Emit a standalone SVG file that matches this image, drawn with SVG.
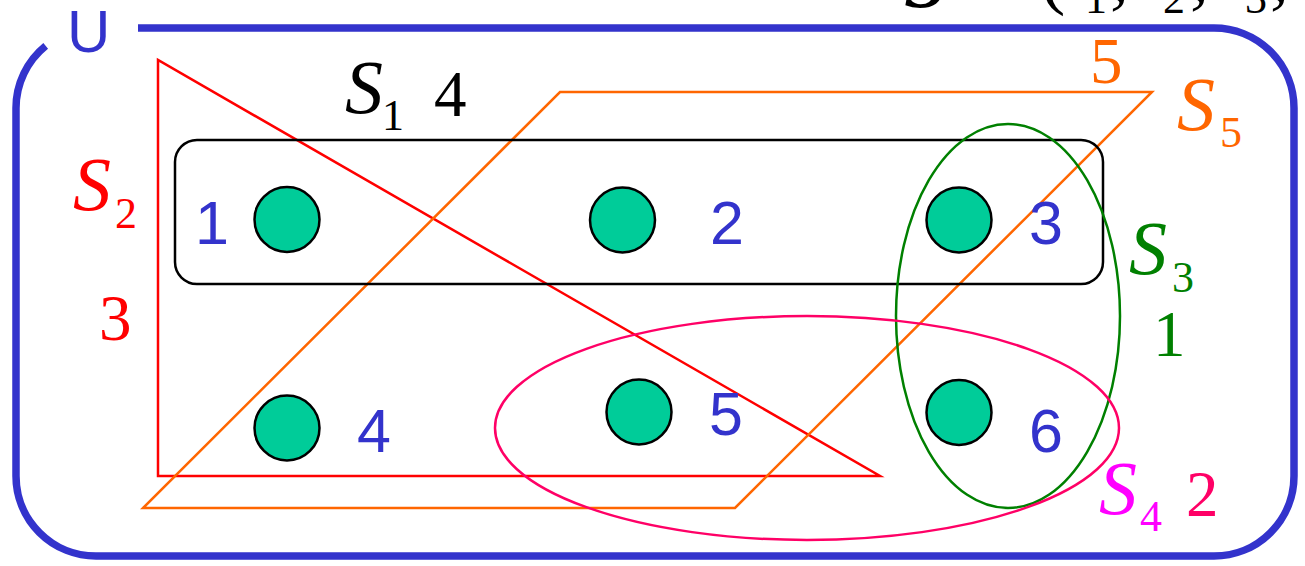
<svg xmlns="http://www.w3.org/2000/svg" width="1305" height="566" viewBox="0 0 1305 566">
<style>
.serif{font-family:"Liberation Serif","Times New Roman",serif}
.it{font-style:italic}
.sans{font-family:"Liberation Sans",Arial,sans-serif}
.num{font-family:"Liberation Sans",Arial,sans-serif;font-size:61px;fill:#3333cc}
.dot{fill:#00cc99;stroke:#000;stroke-width:2.5}
.set{fill:none;stroke-width:2.5}
</style>
<rect width="1305" height="566" fill="#fff"/>
<!-- cut-off title at top -->
<g id="title" class="serif" font-size="76" fill="#000">
<text x="904" y="7" font-weight="bold" font-style="italic">S</text>
<text x="1040" y="0">(</text>
<text x="1085" y="13" font-size="44">1</text>
<text x="1110" y="0">,</text>
<text x="1163" y="13" font-size="44">2</text>
<text x="1190" y="0">,</text>
<text x="1245" y="13" font-size="44">3</text>
<text x="1270" y="0">,</text>
</g>
<!-- universe -->
<g id="universe">
<path d="M138 28 H1214 A80 80 0 0 1 1294 108 V476 A80 80 0 0 1 1214 556 H96 A80 80 0 0 1 16 476 V108 A80 80 0 0 1 45.7 45.8" fill="none" stroke="#3333cc" stroke-width="7.5"/>
<text x="67" y="52" class="sans" font-size="60" fill="#3333cc">U</text>
</g>
<!-- sets -->
<g id="sets">
<g id="S2">
<polygon class="set" stroke="#ff0000" points="158,60 158,476 880,476"/>
<text x="73" y="210" class="serif it" font-size="76" fill="#ff0000">S</text>
<text x="115" y="228" class="serif" font-size="44" fill="#ff0000">2</text>
<text x="99" y="340" class="serif" font-size="65" fill="#ff0000">3</text>
</g>
<g id="S5">
<polygon class="set" stroke="#ff6600" points="560,92 1152,92 735,508 143,508"/>
<text x="1177" y="130" class="serif it" font-size="76" fill="#ff6600">S</text>
<text x="1220" y="147" class="serif" font-size="44" fill="#ff6600">5</text>
<text x="1090" y="83" class="serif" font-size="65" fill="#ff6600">5</text>
</g>
<g id="S1">
<rect class="set" stroke="#000" x="175" y="140" width="928" height="144" rx="22"/>
<text x="345" y="113" class="serif it" font-size="76" fill="#000">S</text>
<text x="382" y="130" class="serif" font-size="44" fill="#000">1</text>
<text x="434" y="116" class="serif" font-size="65" fill="#000">4</text>
</g>
<g id="S3">
<ellipse class="set" stroke="#008000" cx="1008" cy="316" rx="112" ry="192"/>
<text x="1129" y="274" class="serif it" font-size="76" fill="#008000">S</text>
<text x="1172" y="292" class="serif" font-size="44" fill="#008000">3</text>
<text x="1153" y="356" class="serif" font-size="65" fill="#008000">1</text>
</g>
<g id="S4">
<ellipse class="set" stroke="#ff0066" cx="807" cy="428" rx="312" ry="112"/>
<text x="1099" y="514" class="serif it" font-size="76" fill="#ff00ff">S</text>
<text x="1140" y="531" class="serif" font-size="44" fill="#ff00ff">4</text>
<text x="1186" y="516" class="serif" font-size="65" fill="#ff0066">2</text>
</g>
</g>
<g id="connectors"/>
<!-- elements -->
<g id="e1"><circle class="dot" cx="287" cy="219.5" r="32.5"/><text class="num" x="195" y="244">1</text></g>
<g id="e2"><circle class="dot" cx="622.5" cy="220" r="32.5"/><text class="num" x="710" y="244">2</text></g>
<g id="e3"><circle class="dot" cx="959" cy="220" r="32.5"/><text class="num" x="1029" y="244">3</text></g>
<g id="e4"><circle class="dot" cx="287" cy="428" r="32.5"/><text class="num" x="357" y="452">4</text></g>
<g id="e5"><circle class="dot" cx="639" cy="412" r="32.5"/><text class="num" x="709" y="435">5</text></g>
<g id="e6"><circle class="dot" cx="959" cy="412.5" r="32.5"/><text class="num" x="1029" y="452">6</text></g>
</svg>
